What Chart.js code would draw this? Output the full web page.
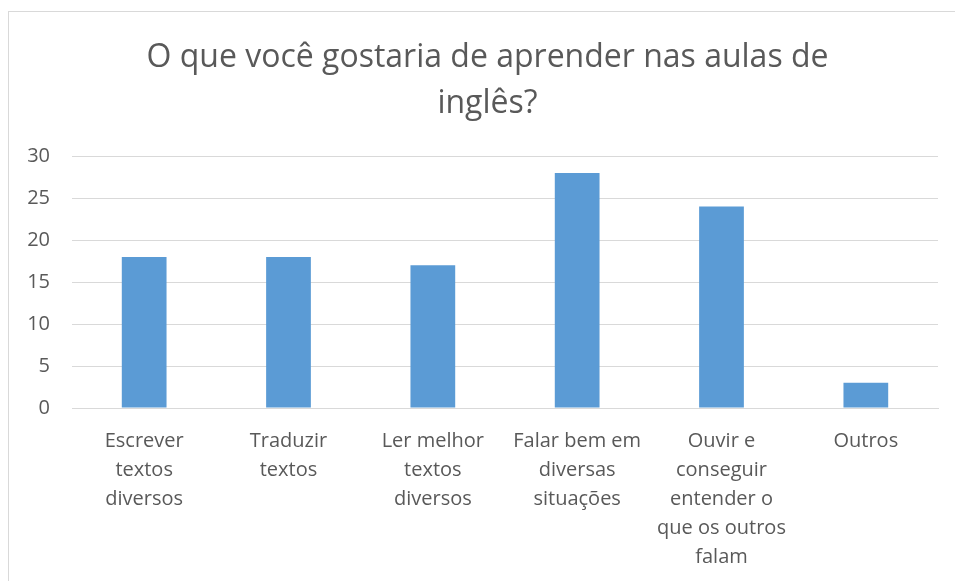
<!DOCTYPE html>
<html>
<head>
<meta charset="utf-8">
<script src="https://cdn.jsdelivr.net/npm/chart.js@4"></script>
<style>
  html, body { margin: 0; padding: 0; background: #fff; }
  #wrap { position: absolute; left: 0; top: 0; width: 955px; height: 581px; }
  #frame { position: absolute; left: 8px; top: 11px; width: 960px; height: 600px; border: 1px solid #d9d9d9; box-sizing: border-box; }
</style>
</head>
<body>
<div id="wrap">
  <div id="frame"></div>
  <canvas id="chart" width="955" height="581"></canvas>
</div>
<script>
// dados do gráfico
const categories = [
    ['Escrever', 'textos', 'diversos'],
    ['Traduzir', 'textos'],
    ['Ler melhor', 'textos', 'diversos'],
    ['Falar bem em', 'diversas', 'situações'],
    ['Ouvir e', 'conseguir', 'entender o', 'que os outros', 'falam'],
    ['Outros']
];
const values = [18, 18, 17, 28, 24, 3];
const yTicks = [0, 5, 10, 15, 20, 25, 30];

const textColor = '#595959';
const fontFamily = "'Open Sans', 'Noto Sans', sans-serif";

const ctx = document.getElementById('chart').getContext('2d');
new Chart(ctx, {
    type: 'bar',
    data: {
        labels: categories,
        datasets: [{
            data: values,
            backgroundColor: '#5b9bd5',
            borderWidth: 0,
            categoryPercentage: 1,
            barPercentage: 0.31
        }]
    },
    options: {
        responsive: false,
        animation: false,
        layout: { padding: { left: 24, right: 4, top: 0, bottom: 0 } },
        plugins: {
            legend: { display: false },
            tooltip: { enabled: false },
            title: {
                display: true,
                text: ['O que você gostaria de aprender nas aulas de', 'inglês?'],
                color: textColor,
                font: { family: fontFamily, size: 32, weight: 'normal', lineHeight: 1.44 },
                padding: { top: 35, bottom: 29 }
            }
        },
        scales: {
            y: {
                min: 0,
                max: 30,
                afterBuildTicks: (scale) => { scale.ticks = yTicks.map(v => ({ value: v })); },
                afterFit: (scale) => { scale.width = 48; },
                border: { display: false },
                grid: { color: '#d9d9d9', lineWidth: 1, drawTicks: false },
                ticks: {
                    color: textColor,
                    padding: 22,
                    font: { family: fontFamily, size: 20 }
                }
            },
            // eixo vazio à direita, só para centralizar o título como no original
            y2: {
                position: 'right',
                afterFit: (scale) => { scale.width = 13; },
                border: { display: false },
                grid: { display: false, drawTicks: false },
                ticks: { display: false }
            },
            x: {
                afterFit: (scale) => { scale.height = 173; },
                border: { color: '#d9d9d9' },
                grid: { display: false, drawTicks: false },
                ticks: {
                    color: textColor,
                    padding: 19,
                    maxRotation: 0,
                    autoSkip: false,
                    font: { family: fontFamily, size: 20, lineHeight: 1.45 }
                }
            }
        }
    }
});
</script>
</body>
</html>
